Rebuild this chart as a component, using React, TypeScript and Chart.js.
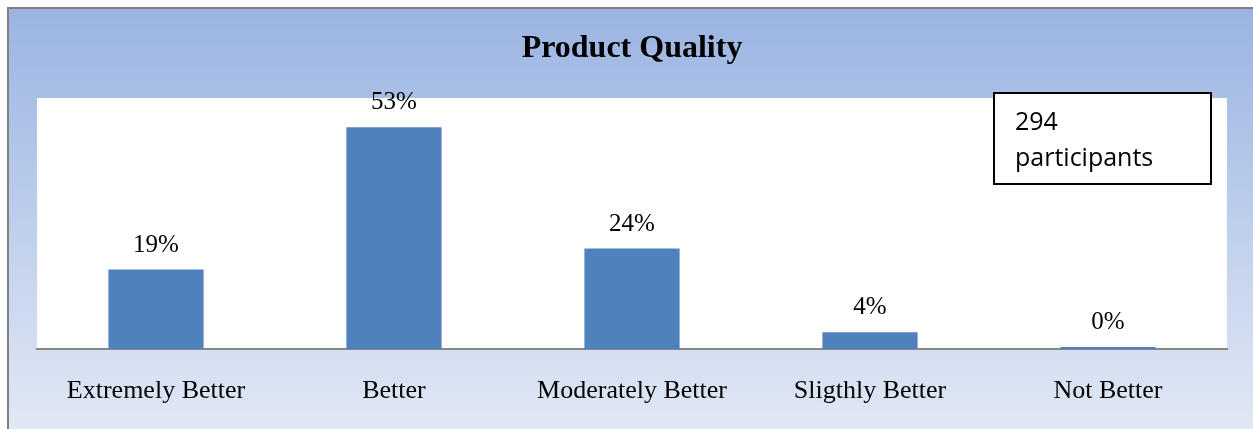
import React, { useEffect, useRef } from "react";
import { Chart, registerables } from "chart.js";

Chart.register(...registerables);

const categories = ["Extremely Better", "Better", "Moderately Better", "Sligthly Better", "Not Better"];
const percentages = [19, 53, 24, 4, 0];
const chartTitle = "Product Quality";
const noteLines = ["294", "participants"];

const W = 1253;
const H = 429;

const decorPlugin = {
  id: "decor",
  beforeDraw(chart: any) {
    const ctx = chart.ctx;
    const ca = chart.chartArea;
    ctx.save();
    const g = ctx.createLinearGradient(0, 8, 0, H);
    g.addColorStop(0, "#9ab4e2");
    g.addColorStop(1, "#e1e8f5");
    ctx.fillStyle = g;
    ctx.fillRect(8, 8, W - 8, H - 8);
    ctx.strokeStyle = "#808080";
    ctx.lineWidth = 2;
    ctx.beginPath();
    ctx.moveTo(8, H);
    ctx.lineTo(8, 8);
    ctx.lineTo(W, 8);
    ctx.stroke();
    ctx.fillStyle = "#ffffff";
    ctx.fillRect(ca.left, ca.top, ca.right - ca.left, ca.bottom - ca.top);
    ctx.restore();
  },
  afterDatasetsDraw(chart: any) {
    const ctx = chart.ctx;
    const ca = chart.chartArea;
    const meta = chart.getDatasetMeta(0);
    ctx.save();
    ctx.fillStyle = "#000000";
    ctx.font = "25px 'Liberation Serif', serif";
    ctx.textAlign = "center";
    ctx.textBaseline = "alphabetic";
    meta.data.forEach((bar: any, i: number) => {
      ctx.fillText(percentages[i] + "%", bar.x, bar.y - 18);
    });
    // note box
    const bx = ca.right - 233;
    const by = ca.top - 5;
    ctx.fillStyle = "#ffffff";
    ctx.fillRect(bx, by, 217, 91);
    ctx.strokeStyle = "#000000";
    ctx.lineWidth = 2;
    ctx.strokeRect(bx, by, 217, 91);
    ctx.fillStyle = "#000000";
    ctx.font = "25px 'Open Sans', sans-serif";
    ctx.textAlign = "left";
    ctx.fillText(noteLines[0], bx + 21, by + 37);
    ctx.fillText(noteLines[1], bx + 21, by + 73);
    ctx.restore();
  },
};

export default function App() {
  const ref = useRef<HTMLCanvasElement | null>(null);
  useEffect(() => {
    if (!ref.current) return;
    const chart = new Chart(ref.current, {
      type: "bar",
      data: {
        labels: categories,
        datasets: [
          {
            data: percentages,
            backgroundColor: "#4f81bd",
            borderWidth: 0,
            categoryPercentage: 1,
            barPercentage: 0.4,
            minBarLength: 2,
          },
        ],
      },
      options: {
        responsive: false,
        animation: false,
        devicePixelRatio: 1,
        layout: { padding: { left: 37, right: 26, top: 0, bottom: 0 } },
        plugins: {
          legend: { display: false },
          tooltip: { enabled: false },
          title: {
            display: true,
            text: chartTitle,
            color: "#000000",
            font: { family: "'Liberation Serif', serif", size: 32, weight: "bold" },
            padding: { top: 30, bottom: 29.6 },
          },
        },
        scales: {
          x: {
            grid: { display: false },
            border: { display: true, color: "#878787", width: 2 },
            ticks: {
              color: "#000000",
              font: { family: "'Liberation Serif', serif", size: 26 },
              padding: 19,
              maxRotation: 0,
            },
            afterFit(scale: any) {
              scale.height = 80;
            },
          },
          y: {
            display: false,
            min: 0,
            max: 60,
          },
        },
      },
      plugins: [decorPlugin],
    });
    return () => chart.destroy();
  }, []);
  return (
    <div style={{ position: "absolute", left: 0, top: 0, width: W, height: H }}>
      <canvas ref={ref} width={W} height={H} style={{ width: W, height: H, display: "block" }} />
    </div>
  );
}
